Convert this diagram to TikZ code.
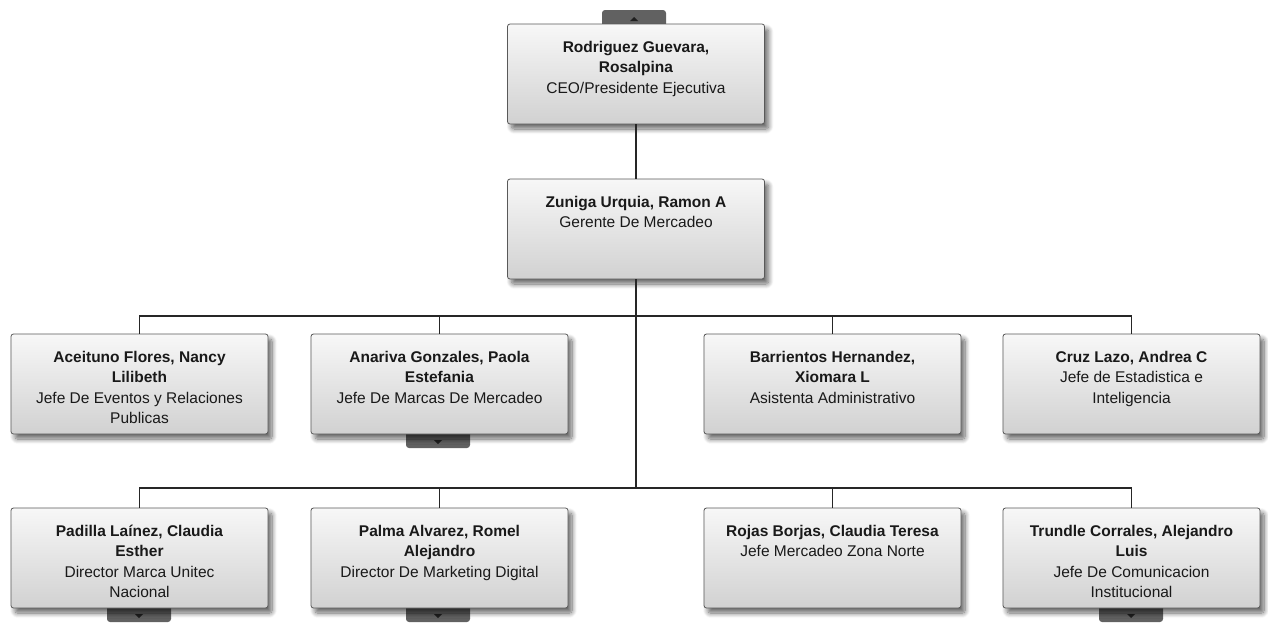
\documentclass[tikz,border=0pt]{standalone}
\usepackage{fontspec}
\setmainfont{Liberation Sans}
\usetikzlibrary{shadows.blur}
\tikzset{
  card/.style={draw=black!65, line width=0.8pt, rounded corners=2.5pt,
    top color=black!3, bottom color=black!18, minimum width=257pt,
    minimum height=100pt, inner sep=0pt,
    blur shadow={shadow xshift=4pt, shadow yshift=-5pt, shadow blur steps=10,
      shadow blur radius=5pt, shadow opacity=60}},
  txt/.style={anchor=north, align=center, inner sep=0pt, text=black!90,
    font=\fontsize{15.5}{20.5}\selectfont},
  tabbox/.style={fill=black!62, rounded corners=3pt, minimum width=64pt,
    minimum height=18pt, inner sep=0pt},
  tri/.style={fill=black!88},
  link/.style={line width=1.7pt, black!85}
}
\begin{document}
\begin{tikzpicture}[x=1pt,y=-1pt]
\useasboundingbox (0,0) rectangle (1268,624);

% expand/collapse tabs behind the cards
\node[tabbox] (t0) at (634,19) {};
\fill[tri] (630,21) -- (638,21) -- (634,17) -- cycle;
\node[tabbox] (t1) at (438,439) {};
\fill[tri] (434,440) -- (442,440) -- (438,444) -- cycle;
\node[tabbox] (t2) at (139,613) {};
\fill[tri] (135,614) -- (143,614) -- (139,618) -- cycle;
\node[tabbox] (t3) at (438,613) {};
\fill[tri] (434,614) -- (442,614) -- (438,618) -- cycle;
\node[tabbox] (t4) at (1131,613) {};
\fill[tri] (1127,614) -- (1135,614) -- (1131,618) -- cycle;

% bus anchors
\coordinate (b1) at (636,316);
\coordinate (b2) at (636,488);

% cards
\node[card] (ceo) at (636,74) {};
\node[card] (mgr) at (636,229) {};
\node[card] (a1) at (139.5,384) {};
\node[card] (a2) at (439.5,384) {};
\node[card] (a3) at (832.5,384) {};
\node[card] (a4) at (1131.5,384) {};
\node[card] (c1) at (139.5,558) {};
\node[card] (c2) at (439.5,558) {};
\node[card] (c3) at (832.5,558) {};
\node[card] (c4) at (1131.5,558) {};

% connectors
\begin{scope}[link]
\draw (ceo.south) -- (mgr.north);
\draw (mgr.south) -- (b2);
\draw (a1.north) |- (a4.north |- b1) -- (a4.north);
\draw (a2.north) -- (a2.north |- b1);
\draw (a3.north) -- (a3.north |- b1);
\draw (c1.north) |- (c4.north |- b2) -- (c4.north);
\draw (c2.north) -- (c2.north |- b2);
\draw (c3.north) -- (c3.north |- b2);
\end{scope}

% card texts
\node[txt] (ceo-t) at ([yshift=-17]ceo.north) {\textbf{Rodriguez Guevara,}\\\textbf{Rosalpina}\\CEO/Presidente Ejecutiva};
\node[txt] (mgr-t) at ([yshift=-17]mgr.north) {\textbf{Zuniga Urquia, Ramon A}\\Gerente De Mercadeo};
\node[txt] (a1-t) at ([yshift=-17]a1.north) {\textbf{Aceituno Flores, Nancy}\\\textbf{Lilibeth}\\Jefe De Eventos y Relaciones\\Publicas};
\node[txt] (a2-t) at ([yshift=-17]a2.north) {\textbf{Anariva Gonzales, Paola}\\\textbf{Estefania}\\Jefe De Marcas De Mercadeo};
\node[txt] (a3-t) at ([yshift=-17]a3.north) {\textbf{Barrientos Hernandez,}\\\textbf{Xiomara L}\\Asistenta Administrativo};
\node[txt] (a4-t) at ([yshift=-17]a4.north) {\textbf{Cruz Lazo, Andrea C}\\Jefe de Estadistica e\\Inteligencia};
\node[txt] (c1-t) at ([yshift=-17]c1.north) {\textbf{Padilla Laínez, Claudia}\\\textbf{Esther}\\Director Marca Unitec\\Nacional};
\node[txt] (c2-t) at ([yshift=-17]c2.north) {\textbf{Palma Alvarez, Romel}\\\textbf{Alejandro}\\Director De Marketing Digital};
\node[txt] (c3-t) at ([yshift=-17]c3.north) {\textbf{Rojas Borjas, Claudia Teresa}\\Jefe Mercadeo Zona Norte};
\node[txt] (c4-t) at ([yshift=-17]c4.north) {\textbf{Trundle Corrales, Alejandro}\\\textbf{Luis}\\Jefe De Comunicacion\\Institucional};
\end{tikzpicture}
\end{document}
